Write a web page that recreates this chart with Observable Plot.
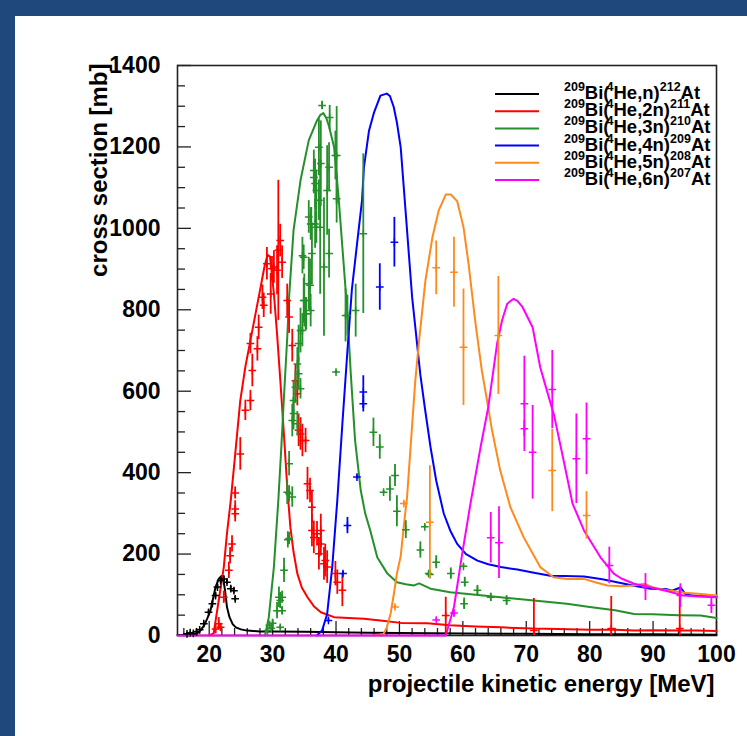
<!DOCTYPE html>
<html><head><meta charset="utf-8">
<script src="https://cdn.jsdelivr.net/npm/d3@7"></script>
<script src="https://cdn.jsdelivr.net/npm/@observablehq/plot@0.6"></script>
<style>
html,body{margin:0;padding:0;background:#1f497d;width:747px;height:736px;overflow:hidden}
#panel{position:absolute;left:15px;top:16px;right:0;bottom:0;background:#fff}
#chart{position:absolute;left:0;top:0}
</style></head><body><div id="panel"></div><div id="chart"></div>
<script>
// Model curves: [energy MeV, cross section mb]
const curve1n = [[15,1],[17,1],[18,4],[18.6,12],[19.2,25],[19.7,42],[20.2,61],[20.6,90],[21,119],[21.5,139],[21.9,146],[22.2,140],[22.5,110],[22.8,70],[23.2,45],[23.7,28],[24.2,20],[25,15],[26,12],[28,10],[30,10],[35,9],[40,8],[45,7],[50,6],[60,5],[70,4],[80,3],[90,3],[100,2]];
const curve2n = [[20,0],[20.7,5],[21.5,86],[22.3,168],[22.8,250],[23.4,332],[23.9,413],[24.9,577],[25.7,660],[26.5,725],[27.3,790],[28.1,855],[28.7,905],[29.2,935],[29.6,930],[30.2,840],[30.7,741],[31.2,630],[31.8,490],[32.3,365],[32.8,266],[33.3,205],[33.9,152],[34.6,118],[35.5,94],[36.5,72],[37.6,57],[39.7,45],[42,43],[44.4,41],[47,37],[50.2,31],[54.4,30],[58,25],[62,22],[66,20],[71,17],[75,16],[80,14],[84,14],[87,12],[90,13],[94,12],[97,12],[100,11]];
const curve3n = [[28.8,0],[29.4,45],[30.2,168],[30.9,332],[31.4,470],[31.8,590],[32.3,730],[32.6,831],[33.3,995],[34.4,1118],[35.7,1216],[37.0,1265],[37.5,1278],[38.0,1283],[38.5,1270],[38.9,1250],[39.7,1199],[40.4,1077],[41.2,913],[41.8,790],[42.3,650],[43.0,480],[43.9,356],[44.6,300],[45.4,258],[46.5,192],[48.1,152],[49.6,131],[51,126],[52.3,123],[53.1,128],[54.9,115],[58,106],[62,100],[65.9,94],[70,88],[76.4,78],[80,70],[84,62],[87,53],[90,52],[94,50],[97.5,49],[100,43]];
const curve4n = [[37,0],[37.3,5],[37.8,12],[38.6,53],[39.4,168],[40.2,332],[41.0,520],[41.8,700],[42.5,850],[43.3,960],[44.1,1069],[44.4,1150],[45.2,1240],[46.0,1285],[47.0,1326],[48.0,1331],[48.5,1325],[49.1,1298],[49.6,1260],[50.2,1199],[51.0,1036],[52.0,831],[53.3,640],[54.0,560],[54.9,463],[55.8,380],[57.0,299],[58,258],[59.1,225],[60.5,200],[62.3,184],[64,175],[66.0,168],[68.6,162],[71,155],[73.8,147],[76,146],[79.1,145],[82,138],[84.3,131],[87,122],[89.6,115],[92,114],[93,110],[94.3,118],[95.2,100],[97,97],[100,96]];
const curve5n = [[46,0],[47.5,4],[48,20],[48.6,53],[49.1,100],[49.6,152],[50.2,195],[50.7,270],[51.2,340],[51.7,450],[52.5,626],[53.1,725],[54.1,872],[55.2,978],[56.2,1044],[57.3,1083],[58.1,1083],[59.1,1067],[60.1,1003],[60.9,913],[62.0,766],[63.0,650],[64.0,560],[64.6,504],[65.9,405],[67.5,315],[69.6,241],[72.2,168],[74.3,143],[76.4,139],[79.1,139],[81,130],[82.8,123],[85,121],[87.0,123],[88.6,127],[90,118],[92.2,111],[95,105],[97.5,102],[100,98]];
const curve6n = [[15,0],[57.3,0],[58.6,70],[59.9,201],[61.2,324],[62.8,463],[64.0,560],[65.4,717],[66.2,775],[67.0,815],[68.0,827],[68.6,822],[69.4,807],[71.0,757],[72.2,659],[72.8,626],[74.4,540],[76.0,422],[77.3,324],[79.1,258],[81.7,192],[83.8,152],[85,140],[87,127],[90.6,115],[92,110],[94.8,98],[97,96],[100,94]];

// Measurements: [energy MeV, cross section mb, error mb]
const data1n = [[16.5,4,2],[17,7,2],[17.5,5,2],[18,9,3],[18.5,14,3],[19.15,29,4],[19.9,57,5],[20.5,78,5],[21.0,98,6],[21.3,119,6],[21.8,135,6],[22.3,139,6],[22.8,131,6],[23.4,115,6],[23.9,110,6],[24.1,90,6]];
const data2n = [[21.0,16,12],[21.5,29,15],[21.8,20,10],[22.3,94,15],[23.1,160,20],[23.3,196,20],[23.6,225,20],[24.1,299,20],[24.1,311,20],[24.1,350,15],[24.9,446,40],[25.7,553,25],[26.5,577,25],[26.5,717,25],[26.8,651,40],[27.6,704,30],[27.8,757,30],[28.4,831,30],[28.6,811,30],[29.1,913,40],[29.7,839,50],[29.9,901,30],[30.2,905,40],[30.7,897,60],[30.9,946,172],[31.2,970,40],[31.5,917,40],[32.3,823,40],[32.6,782,40],[33.1,712,40],[33.6,626,40],[33.9,594,30],[34.1,504,40],[34.4,495,40],[34.7,479,40],[35.2,479,30],[35.5,373,40],[35.9,356,30],[36.2,315,40],[36.2,258,40],[36.5,241,40],[37.0,250,30],[37.3,201,40],[37.6,258,40],[37.6,225,30],[38.1,176,40],[38.3,184,40],[38.6,168,40],[39.9,152,30],[40.2,131,30],[41.0,111,40],[57.3,49,45],[71.2,12,79],[83.4,17,79],[94.2,17,101]];
const data3n = [[29.2,12,6],[29.5,25,10],[29.8,18,8],[30.0,30,10],[30.7,61,20],[31.0,94,25],[31.2,86,20],[31.2,20,5],[31.5,61,10],[31.5,94,15],[31.8,160,30],[32.3,352,30],[32.4,235,20],[32.6,238,15],[32.6,348,20],[32.6,422,30],[33.1,340,25],[33.1,528,40],[33.3,545,40],[33.3,577,50],[33.6,610,40],[33.9,520,30],[33.9,667,40],[34.1,643,40],[34.1,717,45],[34.4,606,25],[34.4,749,55],[34.7,749,40],[34.7,933,45],[34.9,823,55],[34.9,929,30],[35.0,823,65],[35.2,790,40],[35.3,790,40],[35.7,864,65],[35.7,1028,40],[35.9,860,65],[36.0,798,40],[36.0,1011,40],[36.1,1011,40],[36.2,938,75],[36.5,1142,50],[36.5,1125,40],[36.7,1110,60],[36.7,1011,60],[36.9,1093,50],[36.9,1003,40],[37.3,1199,70],[37.3,1069,50],[37.5,1003,165],[37.6,1159,105],[37.8,1302,10],[38.1,905,170],[38.6,1093,110],[38.9,938,60],[38.9,1150,60],[39.0,1272,30],[39.9,1179,60],[40.1,1073,60],[40.1,1179,120],[40.0,647,4],[41.5,786,65],[41.8,786,50],[43.1,798,65],[44.3,987,196],[45.9,499,35],[46.9,463,30],[47.5,352,4],[48.5,360,30],[49.3,393,27],[49.6,305,38],[51.0,260,22],[53.3,210,20],[54.0,267,4],[54.6,152,4],[54.8,150,10],[55.8,180,16],[58.1,152,14],[60.1,170,4],[60.3,131,12],[60.2,78,14],[62.3,111,12],[64.4,94,10],[66.9,86,12]];
const data4n = [[38.8,37,4],[41.1,152,5],[41.8,270,20],[43.3,389,5],[44.3,598,40],[44.3,569,20],[46.9,856,57],[49.2,966,61]];
const data5n = [[49.3,70,5],[50.7,324,5],[54.8,278,139],[55.8,903,66],[58.6,892,86],[60.1,708,143],[65.6,737,145],[74.1,405,101],[79.5,295,58]];
const data6n = [[55.8,38,4],[58.6,55,8],[64.4,240,62],[65.7,228,88],[69.7,569,117],[69.7,508,20],[71.0,450,115],[74.1,604,96],[77.9,434,110],[79.5,483,88],[83.1,172,45],[88.8,119,33],[94.3,98,29],[99.2,74,20]];

// Axis ticks and labels
const xMajor = [20,30,40,50,60,70,80,90,100];
const xMinor = [16,18,22,24,26,28,32,34,36,38,42,44,46,48,52,54,56,58,62,64,66,68,72,74,76,78,82,84,86,88,92,94,96,98];
const yMajor = [0,200,400,600,800,1000,1200,1400];
const yMinor = [50,100,150,250,300,350,450,500,550,650,700,750,850,900,950,1050,1100,1150,1250,1300,1350];
const xTitle = "projectile kinetic energy [MeV]";
const yTitle = "cross section [mb]";

// Legend entries
const legendN = ["n","2n","3n","4n","5n","6n"];
const legendMass = ["212","211","210","209","208","207"];
const colors = ["#000000","#ff0000","#24902a","#0000ff","#ff8a1c","#ff00ff"];

const W = 747, H = 736, mL = 177, mR = 31, mT = 65, mB = 101;
const frameW = W - mL - mR, frameH = H - mT - mB;
const FONT = "'Liberation Sans', Arial, Helvetica, sans-serif";

const curves = [curve1n, curve2n, curve3n, curve4n, curve5n, curve6n];
const measured = [data1n, data2n, data3n, data4n, data5n, data6n];

const curveMarks = curves.map((c, i) =>
  Plot.line(c, {x: d => d[0], y: d => d[1], stroke: colors[i], strokeWidth: 2}));

const pointMarks = measured.flatMap((pts, i) => [
  Plot.ruleX(pts, {x: d => d[0], y1: d => Math.max(0, d[1] - d[2]), y2: d => d[1] + d[2], stroke: colors[i], strokeWidth: 1.8}),
  Plot.dot(pts, {x: d => d[0], y: d => d[1], symbol: "plus", r: 2.6, stroke: colors[i], strokeWidth: 1.5})
]);

const chart = Plot.plot({
  width: W, height: H,
  marginLeft: mL, marginRight: mR, marginTop: mT, marginBottom: mB,
  style: {fontFamily: FONT, background: "transparent", color: "#000", overflow: "visible"},
  x: {domain: [15, 100]},
  y: {domain: [0, 1400]},
  marks: [
    Plot.frame({stroke: "#222", strokeWidth: 1.6}),
    // inward ticks on the bottom and left edges of the frame
    Plot.tickX(xMajor, {x: d => d, insetTop: frameH - 14, stroke: "#222", strokeWidth: 1.3}),
    Plot.tickX(xMinor, {x: d => d, insetTop: frameH - 7, stroke: "#222", strokeWidth: 1.3}),
    Plot.tickY(yMajor, {y: d => d, insetRight: frameW - 14, stroke: "#222", strokeWidth: 1.3}),
    Plot.tickY(yMinor, {y: d => d, insetRight: frameW - 8, stroke: "#222", strokeWidth: 1.3}),
    Plot.axisX({ticks: xMajor, tickSize: 0, tickPadding: 10, tickFormat: d => String(d), label: null, fontSize: 23, fontWeight: "bold"}),
    Plot.axisY({ticks: yMajor, tickSize: 0, tickPadding: 17, tickFormat: d => String(d), label: null, fontSize: 23, fontWeight: "bold"}),
    Plot.text([xTitle], {text: d => d, frameAnchor: "bottom-right", textAnchor: "end", lineAnchor: "bottom", dx: -2, dy: 56, fontSize: 24, fontWeight: "bold"}),
    Plot.text([yTitle], {text: d => d, frameAnchor: "top-left", textAnchor: "end", lineAnchor: "bottom", rotate: -90, dx: -71, dy: -2, fontSize: 24, fontWeight: "bold"}),
    ...curveMarks,
    ...pointMarks
  ]
});
document.getElementById("chart").appendChild(chart);

// Legend inside the frame, top right
const svg = d3.select(chart.tagName.toLowerCase() === "svg" ? chart : chart.querySelector("svg"));
const leg = svg.append("g").attr("font-family", FONT).attr("font-weight", "bold").attr("text-anchor", "start");
const rowY0 = 94, rowStep = 17.2;
legendN.forEach((n, i) => {
  const y = rowY0 + i * rowStep;
  leg.append("line").attr("x1", 495).attr("x2", 539).attr("y1", y).attr("y2", y)
    .attr("stroke", colors[i]).attr("stroke-width", 2);
  const t = leg.append("text").attr("x", 564).attr("y", y + 5).attr("fill", "#000")
    .attr("font-size", 18.5).attr("text-anchor", "start");
  const sup = (s) => t.append("tspan").attr("font-size", 12.5).attr("dy", -8).text(s);
  const norm = (s) => t.append("tspan").attr("font-size", 18.5).attr("dy", 8).text(s);
  sup("209"); norm("Bi(");
  t.append("tspan").attr("font-size", 12.5).attr("dy", -8).attr("dx", -3).text("4");
  norm(`He,${n})`); sup(legendMass[i]); norm("At");
});
</script></body></html>
